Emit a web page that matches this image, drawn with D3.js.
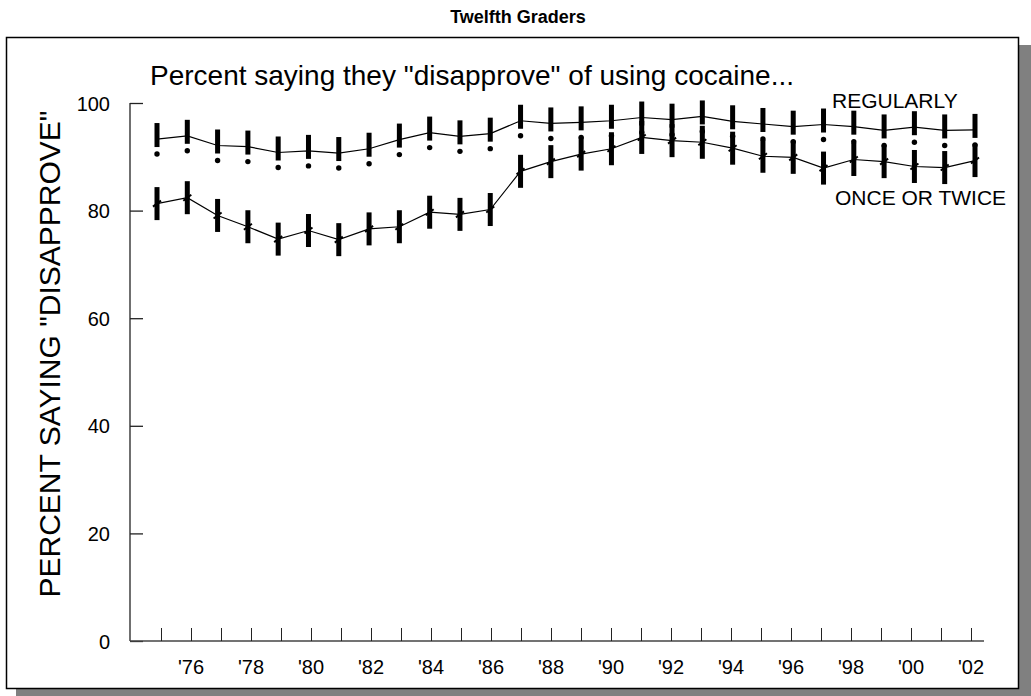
<!DOCTYPE html>
<html>
<head>
<meta charset="utf-8">
<script src="https://cdn.jsdelivr.net/npm/d3@7"></script>
<style>
    body { margin: 0; background: #fff; }
    svg { display: block; font-family: "Liberation Sans", Arial, sans-serif; }
</style>
</head>
<body>
<svg id="chart" width="1031" height="696"></svg>
<script>
// survey years
var years = [1975, 1976, 1977, 1978, 1979, 1980, 1981, 1982, 1983, 1984, 1985, 1986, 1987, 1988,
    1989, 1990, 1991, 1992, 1993, 1994, 1995, 1996, 1997, 1998, 1999, 2000, 2001, 2002];

// percent disapproving of using cocaine regularly
var regularly = [93.3, 93.9, 92.1, 91.9, 90.8, 91.1, 90.7, 91.5, 93.2, 94.5, 93.8, 94.3, 96.7, 96.2,
    96.4, 96.7, 97.3, 96.9, 97.5, 96.6, 96.1, 95.6, 96.0, 95.6, 94.9, 95.5, 94.9, 95.0];

// percent disapproving of trying cocaine once or twice
var onceOrTwice = [81.3, 82.4, 79.1, 77.0, 74.7, 76.3, 74.6, 76.6, 77.0, 79.7, 79.3, 80.2, 87.3, 89.1,
    90.5, 91.5, 93.6, 93.0, 92.7, 91.6, 90.1, 89.9, 87.9, 89.5, 89.1, 88.2, 88.0, 89.3];

var yTicks = [0, 20, 40, 60, 80, 100];
var xLabelYears = [1976, 1978, 1980, 1982, 1984, 1986, 1988, 1990, 1992, 1994, 1996, 1998, 2000, 2002];

var svg = d3.select("#chart");

// frame with drop shadow
svg.append("rect").attr("x", 16).attr("y", 45).attr("width", 1015).attr("height", 651).attr("fill", "#808080");
svg.append("rect").attr("x", 6.5).attr("y", 37.5).attr("width", 1012).attr("height", 651)
    .attr("fill", "#fff").attr("stroke", "#000").attr("stroke-width", 1.5);

svg.append("text").attr("x", 518).attr("y", 23).attr("text-anchor", "middle")
    .attr("font-weight", "bold").attr("font-size", 18).text("Twelfth Graders");

svg.append("text").attr("x", 150).attr("y", 85).attr("font-size", 28)
    .text('Percent saying they "disapprove" of using cocaine...');

var x = d3.scaleLinear().domain([1975, 2002]).range([161, 971]);
var xm = d3.scaleLinear().domain([1975, 2002]).range([157, 975]);
var y = d3.scaleLinear().domain([0, 100]).range([641, 103]);

// y axis
var yAxis = svg.append("g").attr("transform", "translate(130,0)")
    .call(d3.axisRight(y).tickValues(yTicks).tickSize(13).tickFormat(""));
yAxis.select(".domain").attr("d", "M0," + y(100) + "V" + y(0)).attr("stroke", "#222").attr("stroke-width", 1.3);
yAxis.selectAll(".tick line").attr("stroke", "#222").attr("stroke-width", 1.3);
svg.append("g").selectAll("text").data(yTicks).enter().append("text")
    .attr("x", 110).attr("y", function (d) { return y(d) + 7.5; })
    .attr("text-anchor", "end").attr("font-size", 20).text(function (d) { return d; });

// x axis
var xAxis = svg.append("g").attr("transform", "translate(0," + y(0) + ")")
    .call(d3.axisTop(x).tickValues(years).tickSize(13).tickFormat(""));
xAxis.select(".domain").attr("d", "M130,0H984").attr("stroke", "#444").attr("stroke-width", 1.3);
xAxis.selectAll(".tick line").attr("stroke", "#222").attr("stroke-width", 1);
svg.append("g").selectAll("text").data(xLabelYears).enter().append("text")
    .attr("x", function (d) { return x(d); }).attr("y", 674)
    .attr("text-anchor", "middle").attr("font-size", 20)
    .text(function (d) { return "'" + String(d).slice(2); });

svg.append("text").attr("transform", "translate(60,354) rotate(-90)")
    .attr("text-anchor", "middle").attr("font-size", 30).text('PERCENT SAYING "DISAPPROVE"');

// series lines
var line = d3.line().x(function (d) { return xm(d[0]); }).y(function (d) { return y(d[1]); });
var regData = years.map(function (yr, i) { return [yr, regularly[i]]; });
var onceData = years.map(function (yr, i) { return [yr, onceOrTwice[i]]; });

svg.append("path").datum(onceData).attr("d", line).attr("fill", "none").attr("stroke", "#000").attr("stroke-width", 1.2);
svg.append("path").datum(regData).attr("d", line).attr("fill", "none").attr("stroke", "#000").attr("stroke-width", 1.2);

// once or twice markers: thick bar with a small slash
var om = svg.append("g").selectAll("g").data(onceData).enter().append("g")
    .attr("transform", function (d) { return "translate(" + xm(d[0]) + "," + y(d[1]) + ")"; });
om.append("rect").attr("x", -2.5).attr("y", -16.5).attr("width", 5).attr("height", 33).attr("fill", "#000");
om.append("line").attr("x1", -4).attr("y1", 3).attr("x2", 4).attr("y2", -3).attr("stroke", "#000").attr("stroke-width", 2);

// regularly markers: exclamation mark
var rm = svg.append("g").selectAll("g").data(regData).enter().append("g")
    .attr("transform", function (d) { return "translate(" + xm(d[0]) + "," + y(d[1]) + ")"; });
rm.append("rect").attr("x", -2.5).attr("y", -16).attr("width", 5).attr("height", 24).attr("fill", "#000");
rm.append("circle").attr("cx", 0).attr("cy", 15).attr("r", 2.7).attr("fill", "#000");

svg.append("text").attr("x", 832).attr("y", 108).attr("font-size", 21).text("REGULARLY");
svg.append("text").attr("x", 835).attr("y", 205).attr("font-size", 21).text("ONCE OR TWICE");
</script>
</body>
</html>
